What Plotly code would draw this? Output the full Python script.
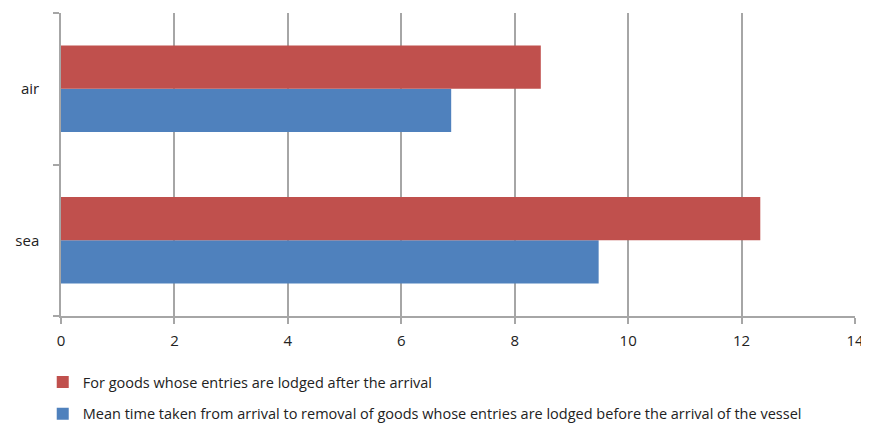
import plotly.graph_objects as go

categories = ['sea', 'air']
before_vessel = [9.48, 6.88]   # blue
after_arrival = [12.33, 8.46]  # red

name_before = 'Mean time taken from arrival to removal of goods whose entries are lodged before the arrival of the vessel'
name_after = 'For goods whose entries are lodged after the arrival'

font_family = 'Open Sans, sans-serif'

fig = go.Figure()
fig.add_trace(go.Bar(
    y=categories, x=before_vessel, orientation='h', name=name_before,
    marker=dict(color='#4f81bd', line=dict(width=0)),
    legendgroup='b', legendrank=2
))
fig.add_trace(go.Bar(
    y=categories, x=after_arrival, orientation='h', name=name_after,
    marker=dict(color='#c0504d', line=dict(width=0)),
    legendgroup='a', legendrank=1
))

# page body keeps an 8px margin, so the figure is a bit smaller than the window
fig.update_layout(
    width=861, height=421,
    margin=dict(l=53, r=14, t=5, b=113, autoexpand=False),
    paper_bgcolor='white', plot_bgcolor='white',
    barmode='group', bargap=0.43, bargroupgap=0,
    font=dict(family=font_family, size=14, color='#222222'),
    xaxis=dict(
        range=[0, 14], dtick=2, tick0=0,
        showgrid=True, gridcolor='#a6a6a6', gridwidth=1.5,
        showline=True, linecolor='#a6a6a6', linewidth=1.5,
        ticks='outside', ticklen=6, tickcolor='#a6a6a6', tickwidth=1.5,
        zeroline=False, automargin=False, ticklabelstandoff=4,
        tickfont=dict(size=15),
    ),
    yaxis=dict(
        categoryorder='array', categoryarray=categories,
        showgrid=False, showline=True, linecolor='#a6a6a6', linewidth=1.5,
        ticks='outside', ticklen=6, tickcolor='#a6a6a6', tickwidth=1.5,
        tickson='boundaries', ticklabelstandoff=17, automargin=False,
        tickfont=dict(size=15),
    ),
    showlegend=True,
    legend=dict(
        orientation='v', x=-0.023, xanchor='left', y=-0.165, yanchor='top',
        traceorder='grouped', tracegroupgap=10,
        font=dict(size=14.5, color='#222222'),
        itemwidth=30,
    ),
)

fig.write_html("out.html")
